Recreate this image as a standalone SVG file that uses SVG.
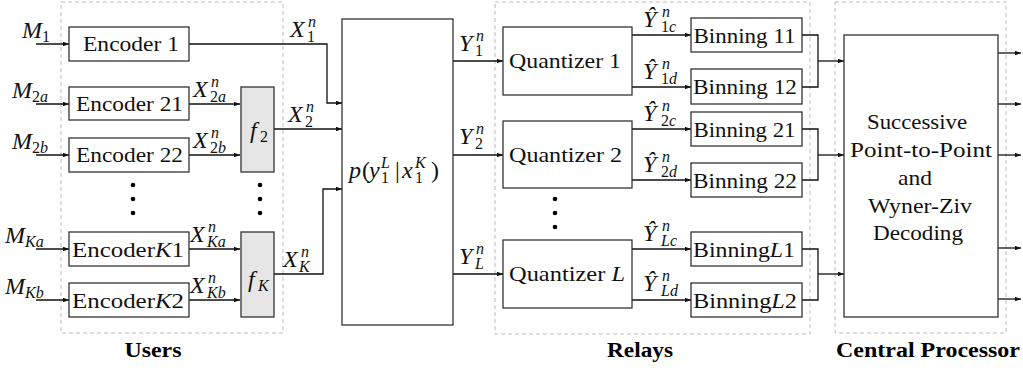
<svg xmlns="http://www.w3.org/2000/svg" width="1023" height="371" viewBox="0 0 1023 371">
<defs>
<style>
.box{fill:#fff;stroke:#333;stroke-width:1.3}
.fbox{fill:#e6e6e6;stroke:#333;stroke-width:1.3}
.grp{fill:none;stroke:#bbb;stroke-width:1;stroke-dasharray:4 3}
.w{fill:none;stroke:#111;stroke-width:1.3}
text{font-family:"Liberation Serif",serif;fill:#111}
.t{font-size:22px}
.c{text-anchor:middle}
.m{font-size:24px;font-style:italic}
.s{font-size:16px}
.i{font-style:italic}
.b{font-size:20px;font-weight:bold;fill:#000;text-anchor:middle}
.dot{fill:#000}
</style>
<marker id="ar" viewBox="0 0 8 6" refX="8" refY="3" markerWidth="6" markerHeight="4.5" markerUnits="userSpaceOnUse" orient="auto">
<path d="M0,0 L8,3 L0,6 Z" fill="#111"/>
</marker>
</defs>
<rect width="1023" height="371" fill="#fff"/>

<g id="groups">
<rect class="grp" x="61" y="2" width="222" height="331"/>
<rect class="grp" x="495" y="2" width="315" height="332"/>
<rect class="grp" x="835" y="2" width="171" height="331"/>
<text class="b" x="153" y="357" textLength="57" lengthAdjust="spacingAndGlyphs">Users</text>
<text class="b" x="640" y="357" textLength="66" lengthAdjust="spacingAndGlyphs">Relays</text>
<text class="b" x="928" y="357" textLength="184" lengthAdjust="spacingAndGlyphs">Central Processor</text>
</g>

<g id="connectors">
<path class="w" d="M36,44 H69" marker-end="url(#ar)"/>
<path class="w" d="M36,104 H69" marker-end="url(#ar)"/>
<path class="w" d="M36,155 H69" marker-end="url(#ar)"/>
<path class="w" d="M36,249 H69" marker-end="url(#ar)"/>
<path class="w" d="M36,300 H69" marker-end="url(#ar)"/>
<path class="w" d="M189,44 H327 V103 H342" marker-end="url(#ar)"/>
<path class="w" d="M189,104 H240" marker-end="url(#ar)"/>
<path class="w" d="M189,155 H240" marker-end="url(#ar)"/>
<path class="w" d="M189,249 H240" marker-end="url(#ar)"/>
<path class="w" d="M189,300 H240" marker-end="url(#ar)"/>
<path class="w" d="M274,129 H342" marker-end="url(#ar)"/>
<path class="w" d="M274,274 H323 V189 H342" marker-end="url(#ar)"/>
<path class="w" d="M453,61 H503" marker-end="url(#ar)"/>
<path class="w" d="M453,155 H503" marker-end="url(#ar)"/>
<path class="w" d="M453,274 H503" marker-end="url(#ar)"/>
<path class="w" d="M632,35 H691" marker-end="url(#ar)"/>
<path class="w" d="M632,87 H691" marker-end="url(#ar)"/>
<path class="w" d="M632,129 H691" marker-end="url(#ar)"/>
<path class="w" d="M632,180 H691" marker-end="url(#ar)"/>
<path class="w" d="M632,249 H691" marker-end="url(#ar)"/>
<path class="w" d="M632,300 H691" marker-end="url(#ar)"/>
<path class="w" d="M802,35 H818 V87 H802"/>
<path class="w" d="M818,61 H844" marker-end="url(#ar)"/>
<path class="w" d="M802,129 H818 V180 H802"/>
<path class="w" d="M818,155 H844" marker-end="url(#ar)"/>
<path class="w" d="M802,249 H818 V300 H802"/>
<path class="w" d="M818,274 H844" marker-end="url(#ar)"/>
<path class="w" d="M998,53 H1021" marker-end="url(#ar)"/>
<path class="w" d="M998,104 H1021" marker-end="url(#ar)"/>
<path class="w" d="M998,155 H1021" marker-end="url(#ar)"/>
<path class="w" d="M998,248 H1021" marker-end="url(#ar)"/>
<path class="w" d="M998,299 H1021" marker-end="url(#ar)"/>
</g>

<g id="labels">
<text class="m" x="22" y="38">M</text><text class="s" x="42" y="42">1</text>
<text class="m" x="12" y="98">M</text><text class="s" x="32" y="102">2<tspan class="i">a</tspan></text>
<text class="m" x="12" y="149">M</text><text class="s" x="32" y="153">2<tspan class="i">b</tspan></text>
<text class="m" x="5" y="243">M</text><text class="s i" x="25" y="247">Ka</text>
<text class="m" x="5" y="294">M</text><text class="s i" x="25" y="298">Kb</text>

<text class="m" x="290" y="37">X</text><text class="s i" x="308" y="27">n</text><text class="s" x="307" y="42">1</text>
<text class="m" x="193" y="97">X</text><text class="s i" x="211" y="87">n</text><text class="s" x="210" y="102">2<tspan class="i">a</tspan></text>
<text class="m" x="193" y="148">X</text><text class="s i" x="211" y="138">n</text><text class="s" x="210" y="153">2<tspan class="i">b</tspan></text>
<text class="m" x="288" y="122">X</text><text class="s i" x="306" y="112">n</text><text class="s" x="305" y="127">2</text>
<text class="m" x="190" y="242">X</text><text class="s i" x="208" y="232">n</text><text class="s i" x="207" y="247">Ka</text>
<text class="m" x="190" y="293">X</text><text class="s i" x="208" y="283">n</text><text class="s i" x="207" y="298">Kb</text>
<text class="m" x="283" y="267">X</text><text class="s i" x="301" y="257">n</text><text class="s i" x="299" y="272">K</text>

<text class="m" x="459" y="51">Y</text><text class="s i" x="476" y="41">n</text><text class="s" x="475" y="56">1</text>
<text class="m" x="459" y="144">Y</text><text class="s i" x="476" y="134">n</text><text class="s" x="475" y="149">2</text>
<text class="m" x="459" y="264">Y</text><text class="s i" x="476" y="254">n</text><text class="s i" x="475" y="269">L</text>

<text class="m" x="643" y="27">Ŷ</text><text class="s i" x="662" y="17">n</text><text class="s" x="661" y="32">1<tspan class="i">c</tspan></text>
<text class="m" x="643" y="79">Ŷ</text><text class="s i" x="662" y="69">n</text><text class="s" x="661" y="84">1<tspan class="i">d</tspan></text>
<text class="m" x="643" y="121">Ŷ</text><text class="s i" x="662" y="111">n</text><text class="s" x="661" y="126">2<tspan class="i">c</tspan></text>
<text class="m" x="643" y="172">Ŷ</text><text class="s i" x="662" y="162">n</text><text class="s" x="661" y="177">2<tspan class="i">d</tspan></text>
<text class="m" x="643" y="241">Ŷ</text><text class="s i" x="662" y="231">n</text><text class="s i" x="661" y="246">Lc</text>
<text class="m" x="643" y="291">Ŷ</text><text class="s i" x="662" y="281">n</text><text class="s i" x="661" y="296">Ld</text>
</g>

<g id="enc1"><rect class="box" x="69" y="27" width="120" height="34"/><text class="t c" x="131" y="51" textLength="96" lengthAdjust="spacingAndGlyphs">Encoder 1</text></g>
<g id="enc21"><rect class="box" x="69" y="87" width="120" height="33"/><text class="t c" x="129.5" y="111" textLength="107" lengthAdjust="spacingAndGlyphs">Encoder 21</text></g>
<g id="enc22"><rect class="box" x="69" y="138" width="120" height="34"/><text class="t c" x="129.5" y="162" textLength="107" lengthAdjust="spacingAndGlyphs">Encoder 22</text></g>
<g id="encK1"><rect class="box" x="69" y="232" width="120" height="34"/><text class="t c" x="128" y="257" textLength="112" lengthAdjust="spacingAndGlyphs">Encoder<tspan class="i">K</tspan>1</text></g>
<g id="encK2"><rect class="box" x="69" y="283" width="120" height="34"/><text class="t c" x="128" y="308" textLength="112" lengthAdjust="spacingAndGlyphs">Encoder<tspan class="i">K</tspan>2</text></g>

<g id="f2"><rect class="fbox" x="241" y="87" width="33" height="85"/><text class="m" x="250" y="138">f</text><text class="s" x="260" y="142">2</text></g>
<g id="fK"><rect class="fbox" x="241" y="232" width="33" height="85"/><text class="m" x="248" y="287">f</text><text class="s i" x="258" y="291">K</text></g>

<g id="dots-users">
<circle class="dot" cx="133" cy="185" r="2.3"/><circle class="dot" cx="133" cy="199" r="2.3"/><circle class="dot" cx="133" cy="213" r="2.3"/>
<circle class="dot" cx="260" cy="185" r="2.3"/><circle class="dot" cx="260" cy="199" r="2.3"/><circle class="dot" cx="260" cy="213" r="2.3"/>
</g>

<g id="channel"><rect class="box" x="342" y="19" width="111" height="306"/>
<text class="m" x="349" y="178">p</text><text class="t" x="362" y="178" style="font-size:24px">(</text>
<text class="m" x="369" y="178">y</text><text class="s i" x="381" y="168">L</text><text class="s" x="381" y="183">1</text>
<text class="t" x="395" y="178" style="font-size:24px">|</text>
<text class="m" x="402" y="178">x</text><text class="s i" x="415" y="168">K</text><text class="s" x="415" y="183">1</text>
<text class="t" x="431" y="178" style="font-size:24px">)</text>
</g>

<g id="q1"><rect class="box" x="503" y="27" width="129" height="68"/><text class="t c" x="565" y="68" textLength="112" lengthAdjust="spacingAndGlyphs">Quantizer 1</text></g>
<g id="q2"><rect class="box" x="503" y="121" width="129" height="67"/><text class="t c" x="565.5" y="162" textLength="113" lengthAdjust="spacingAndGlyphs">Quantizer 2</text></g>
<g id="qL"><rect class="box" x="503" y="240" width="129" height="68"/><text class="t c" x="567" y="281" textLength="116" lengthAdjust="spacingAndGlyphs">Quantizer <tspan class="i">L</tspan></text></g>
<g id="dots-relays">
<circle class="dot" cx="555" cy="199" r="2.3"/><circle class="dot" cx="555" cy="213" r="2.3"/><circle class="dot" cx="555" cy="227" r="2.3"/>
</g>

<g id="b11"><rect class="box" x="691" y="18" width="111" height="34"/><text class="t c" x="744.5" y="43" textLength="102" lengthAdjust="spacingAndGlyphs">Binning 11</text></g>
<g id="b12"><rect class="box" x="691" y="69" width="111" height="35"/><text class="t c" x="745" y="94" textLength="104" lengthAdjust="spacingAndGlyphs">Binning 12</text></g>
<g id="b21"><rect class="box" x="691" y="112" width="111" height="34"/><text class="t c" x="744.5" y="137" textLength="102" lengthAdjust="spacingAndGlyphs">Binning 21</text></g>
<g id="b22"><rect class="box" x="691" y="163" width="111" height="34"/><text class="t c" x="745" y="188" textLength="104" lengthAdjust="spacingAndGlyphs">Binning 22</text></g>
<g id="bL1"><rect class="box" x="691" y="232" width="111" height="34"/><text class="t c" x="744" y="257" textLength="102" lengthAdjust="spacingAndGlyphs">Binning<tspan class="i">L</tspan>1</text></g>
<g id="bL2"><rect class="box" x="691" y="283" width="111" height="34"/><text class="t c" x="745" y="308" textLength="104" lengthAdjust="spacingAndGlyphs">Binning<tspan class="i">L</tspan>2</text></g>

<g id="cp"><rect class="box" x="844" y="35" width="154" height="282"/>
<text class="t c" x="917" y="129" textLength="100" lengthAdjust="spacingAndGlyphs">Successive</text>
<text class="t c" x="921" y="157" textLength="142" lengthAdjust="spacingAndGlyphs">Point-to-Point</text>
<text class="t c" x="915" y="185" textLength="34" lengthAdjust="spacingAndGlyphs">and</text>
<text class="t c" x="920" y="213" textLength="104" lengthAdjust="spacingAndGlyphs">Wyner-Ziv</text>
<text class="t c" x="918" y="240" textLength="90" lengthAdjust="spacingAndGlyphs">Decoding</text>
</g>
</svg>
